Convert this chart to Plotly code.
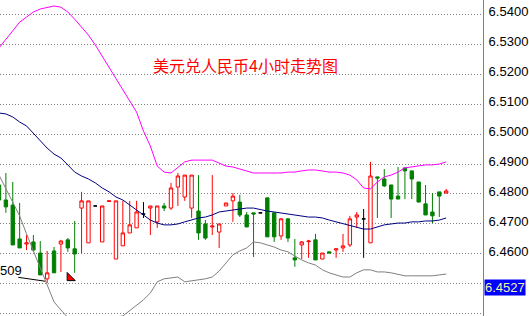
import plotly.graph_objects as go

# ---- data (USD/CNY 4h candles) ----
opens = [6.4830, 6.4780, 6.4763, 6.4650, 6.4633, 6.4640, 6.4603, 6.4517, 6.4610, 6.4633,
         6.4647, 6.4617, 6.4753, 6.4637, 6.4760, 6.4640, 6.4775, 6.4583, 6.4627, 6.4670,
         6.4687, 6.4733, 6.4753, 6.4707, 6.4760, 6.4753, 6.4823, 6.4790, 6.4753, 6.4743,
         6.4700, 6.4690, 6.4673, 6.4760, 6.4777, 6.4773, 6.4730, 6.4737, 6.4737, 6.4787,
         6.4737, 6.4660, 6.4717, 6.4587, 6.4630, 6.4641, 6.4647, 6.4583, 6.4607, 6.4613,
         6.4620, 6.4630, 6.4723, 6.4717, 6.4637, 6.4857, 6.4850, 6.4830, 6.4793, 6.4887,
         6.4877, 6.4840, 6.4767, 6.4740, 6.4807, 6.4803]
highs = [6.4870, 6.4870, 6.4840, 6.4770, 6.4663, 6.4663, 6.4643, 6.4610, 6.4623, 6.4647,
         6.4653, 6.4710, 6.4807, 6.4777, 6.4760, 6.4760, 6.4777, 6.4777, 6.4777, 6.4777,
         6.4777, 6.4773, 6.4760, 6.4760, 6.4770, 6.4837, 6.4870, 6.4863, 6.4863, 6.4863,
         6.4713, 6.4863, 6.4700, 6.4770, 6.4803, 6.4797, 6.4740, 6.4737, 6.4737, 6.4787,
         6.4737, 6.4720, 6.4720, 6.4650, 6.4643, 6.4647, 6.4667, 6.4603, 6.4607, 6.4620,
         6.4667, 6.4727, 6.4740, 6.4750, 6.4907, 6.4857, 6.4883, 6.4830, 6.4890, 6.4887,
         6.4877, 6.4840, 6.4830, 6.4803, 6.4807, 6.4817]
lows = [6.4773, 6.4737, 6.4630, 6.4620, 6.4613, 6.4607, 6.4530, 6.4503, 6.4537, 6.4540,
        6.4607, 6.4537, 6.4603, 6.4637, 6.4760, 6.4640, 6.4775, 6.4583, 6.4627, 6.4670,
        6.4687, 6.4720, 6.4663, 6.4687, 6.4743, 6.4747, 6.4760, 6.4777, 6.4720, 6.4647,
        6.4647, 6.4663, 6.4620, 6.4760, 6.4707, 6.4723, 6.4690, 6.4590, 6.4737, 6.4657,
        6.4640, 6.4647, 6.4640, 6.4557, 6.4583, 6.4587, 6.4580, 6.4583, 6.4603, 6.4587,
        6.4607, 6.4623, 6.4687, 6.4587, 6.4637, 6.4720, 6.4823, 6.4720, 6.4783, 6.4783,
        6.4783, 6.4773, 6.4730, 6.4703, 6.4723, 6.4803]
closes = [6.4780, 6.4757, 6.4630, 6.4620, 6.4637, 6.4613, 6.4530, 6.4537, 6.4537, 6.4643,
          6.4620, 6.4600, 6.4777, 6.4777, 6.4760, 6.4760, 6.4777, 6.4777, 6.4670, 6.4697,
          6.4740, 6.4733, 6.4760, 6.4760, 6.4753, 6.4820, 6.4860, 6.4863, 6.4863, 6.4670,
          6.4653, 6.4693, 6.4700, 6.4770, 6.4793, 6.4730, 6.4690, 6.4733, 6.4737, 6.4657,
          6.4657, 6.4717, 6.4653, 6.4580, 6.4640, 6.4643, 6.4580, 6.4603, 6.4603, 6.4617,
          6.4627, 6.4717, 6.4730, 6.4717, 6.4860, 6.4853, 6.4827, 6.4783, 6.4783, 6.4877,
          6.4850, 6.4773, 6.4730, 6.4727, 6.4793, 6.4810]

# Bollinger bands
bb_upper = [6.5287, 6.5317, 6.5347, 6.5373, 6.5390, 6.5407, 6.5417, 6.5423, 6.5427, 6.5423,
            6.5407, 6.5383, 6.5357, 6.5330, 6.5297, 6.5260, 6.5220, 6.5183, 6.5150, 6.5113,
            6.5073, 6.5010, 6.4960, 6.4893, 6.4873, 6.4870, 6.4890, 6.4907, 6.4913, 6.4913,
            6.4913, 6.4913, 6.4903, 6.4893, 6.4890, 6.4883, 6.4877, 6.4870, 6.4870, 6.4870,
            6.4870, 6.4870, 6.4873, 6.4873, 6.4877, 6.4880, 6.4880, 6.4877, 6.4873, 6.4873,
            6.4870, 6.4863, 6.4847, 6.4820, 6.4817, 6.4840, 6.4857, 6.4863, 6.4873, 6.4887,
            6.4890, 6.4893, 6.4897, 6.4897, 6.4900, 6.4907]
bb_middle = [6.5070, 6.5067, 6.5057, 6.5040, 6.5027, 6.5003, 6.4977, 6.4953, 6.4933, 6.4920,
             6.4897, 6.4873, 6.4860, 6.4850, 6.4837, 6.4820, 6.4807, 6.4790, 6.4780, 6.4763,
             6.4747, 6.4730, 6.4713, 6.4703, 6.4697, 6.4697, 6.4700, 6.4707, 6.4713, 6.4720,
             6.4723, 6.4730, 6.4740, 6.4743, 6.4747, 6.4750, 6.4753, 6.4753, 6.4747, 6.4743,
             6.4740, 6.4737, 6.4733, 6.4730, 6.4727, 6.4723, 6.4723, 6.4720, 6.4713, 6.4707,
             6.4700, 6.4693, 6.4687, 6.4683, 6.4683, 6.4690, 6.4697, 6.4700, 6.4703, 6.4703,
             6.4707, 6.4707, 6.4710, 6.4710, 6.4713, 6.4720]
bb_lower = [6.4863, 6.4817, 6.4773, 6.4727, 6.4667, 6.4607, 6.4553, 6.4497, 6.4440, 6.4413,
            6.4387, 6.4363, 6.4360, 6.4367, 6.4373, 6.4377, 6.4383, 6.4390, 6.4393, 6.4410,
            6.4427, 6.4447, 6.4470, 6.4507, 6.4517, 6.4520, 6.4523, 6.4507, 6.4510, 6.4513,
            6.4517, 6.4523, 6.4543, 6.4570, 6.4597, 6.4610, 6.4620, 6.4640, 6.4637, 6.4630,
            6.4623, 6.4613, 6.4607, 6.4593, 6.4580, 6.4570, 6.4563, 6.4547, 6.4537, 6.4530,
            6.4523, 6.4523, 6.4537, 6.4547, 6.4547, 6.4540, 6.4540, 6.4537, 6.4533, 6.4527,
            6.4527, 6.4527, 6.4527, 6.4527, 6.4530, 6.4533]

level_line_x = [2.8, 6.7]
level_line_y = [6.4522, 6.4509]
level_label = "509"
arrow_x = [10.3]
arrow_y = [6.4520]

price_ticks = [6.44, 6.45, 6.46, 6.47, 6.48, 6.49, 6.50, 6.51, 6.52, 6.53, 6.54]
price_text = ["", "", "6.4600", "6.4700", "6.4800", "6.4900", "6.5000",
              "6.5100", "6.5200", "6.5300", "6.5400"]
current_label = "6.4527"
title_text = "美元兑人民币4小时走势图"

# ---- figure ----
idx = list(range(len(opens)))
fig = go.Figure()

for xs, col in [(bb_upper, "#ff00ff"), (bb_middle, "#000080"), (bb_lower, "#808080")]:
    fig.add_trace(go.Scatter(x=idx, y=xs, mode="lines",
                             line=dict(color=col, width=1), hoverinfo="skip"))


def pick(cond):
    sel = [i for i in idx if cond(opens[i], closes[i])]
    return dict(x=sel, open=[opens[i] for i in sel], high=[highs[i] for i in sel],
                low=[lows[i] for i in sel], close=[closes[i] for i in sel])


up = pick(lambda o, c: c > o)
dn = pick(lambda o, c: c < o)
dj = pick(lambda o, c: c == o)

fig.add_trace(go.Candlestick(**up,
                             increasing=dict(line=dict(color="#ff0000", width=1), fillcolor="#ffffff"),
                             decreasing=dict(line=dict(color="#ff0000", width=1), fillcolor="#ffffff")))
fig.add_trace(go.Candlestick(**dn,
                             increasing=dict(line=dict(color="#008000", width=1), fillcolor="#008000"),
                             decreasing=dict(line=dict(color="#008000", width=1), fillcolor="#008000")))
fig.add_trace(go.Candlestick(**dj,
                             increasing=dict(line=dict(color="#000000", width=1), fillcolor="#000000"),
                             decreasing=dict(line=dict(color="#000000", width=1), fillcolor="#000000")))

fig.add_trace(go.Scatter(x=level_line_x, y=level_line_y, mode="lines",
                         line=dict(color="#000000", width=1), hoverinfo="skip"))
fig.add_trace(go.Scatter(x=arrow_x, y=arrow_y, mode="markers",
                         marker=dict(symbol="triangle-sw", size=9, color="#ff0000",
                                     line=dict(color="#000000", width=1)), hoverinfo="skip"))

fig.add_annotation(text=title_text, xref="paper", yref="paper", x=0.508, y=0.839,
                   showarrow=False, font=dict(family="Noto Sans CJK SC", size=16, color="#ff0000"))
fig.add_annotation(text=level_label, xref="paper", yref="y", x=0, y=6.4545,
                   xanchor="left", xshift=-1, showarrow=False, borderpad=0,
                   font=dict(family="Liberation Sans, Arial", size=13, color="#000000"))
fig.add_annotation(text=current_label, xref="paper", yref="paper", x=1, y=1 - 287.5 / 316,
                   xanchor="left", yanchor="middle", xshift=1, showarrow=False,
                   bgcolor="#0000ff", borderpad=0,
                   font=dict(family="Liberation Sans, Arial", size=13, color="#f5f5a0"))

fig.update_layout(
    width=529, height=316, margin=dict(l=0, r=46, t=0, b=0),
    paper_bgcolor="#ffffff", plot_bgcolor="#ffffff", showlegend=False,
    xaxis=dict(range=[0.145, 70.35], visible=False, rangeslider=dict(visible=False),
               showgrid=False, zeroline=False),
    yaxis=dict(range=[6.4393, 6.5447], side="right", tickvals=price_ticks, ticktext=price_text,
               showgrid=True, gridcolor="#808080", griddash="1px,2px", gridwidth=1,
               zeroline=False, showline=True, linecolor="#808080", linewidth=1,
               ticks="", ticklabelstandoff=2, ticklabelshift=-3,
               tickfont=dict(family="Liberation Sans, Arial", size=13, color="#000000")),
)

fig.write_html("out.html")
